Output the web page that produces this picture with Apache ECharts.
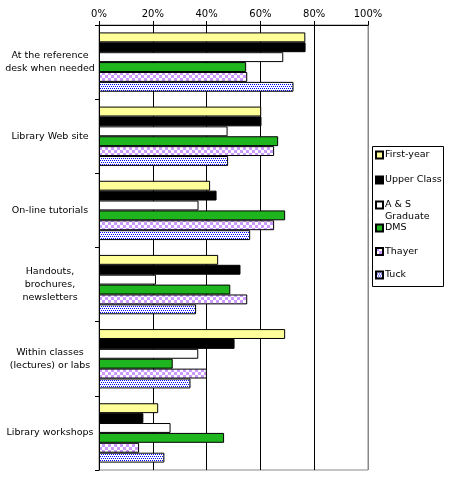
<!DOCTYPE html>
<html>
<head>
<meta charset="utf-8">
<style>
html,body{margin:0;padding:0;background:#fff;}
#c{width:453px;height:482px;}
</style>
<script src="https://cdn.jsdelivr.net/npm/echarts@6/dist/echarts.min.js"></script>
</head>
<body>
<div id="c"></div>
<script>
var categories = [
  "At the reference\ndesk when needed",
  "Library Web site",
  "On-line tutorials",
  "Handouts,\nbrochures,\nnewsletters",
  "Within classes\n(lectures) or labs",
  "Library workshops"
];
var seriesNames = ["First-year", "Upper Class", "A & S\nGraduate", "DMS", "Thayer", "Tuck"];
var firstYear  = [76.7, 60.3, 41.3, 44.3, 69.2, 22.0];
var upperClass = [76.8, 60.4, 43.7, 52.6, 50.4, 16.5];
var asGraduate = [68.5, 47.8, 37.0, 21.2, 36.9, 26.6];
var dms        = [54.7, 66.6, 69.2, 48.8, 27.4, 46.5];
var thayer     = [55.1, 65.1, 65.1, 55.1, 40.1, 14.9];
var tuck       = [72.3, 48.0, 56.2, 36.1, 34.0, 24.3];
var xTicks = [0, 20, 40, 60, 80, 100];

function checker() {
  var c = document.createElement('canvas'); c.width = 6; c.height = 6;
  var g = c.getContext('2d');
  g.fillStyle = '#fff'; g.fillRect(0, 0, 6, 6);
  g.fillStyle = '#cc99ff'; g.fillRect(0, 0, 3, 3); g.fillRect(3, 3, 3, 3);
  return c;
}
function dots() {
  var c = document.createElement('canvas'); c.width = 4; c.height = 4;
  var g = c.getContext('2d');
  g.fillStyle = '#fff'; g.fillRect(0, 0, 4, 4);
  g.fillStyle = '#0000ff';
  g.fillRect(0, 0, 1, 1); g.fillRect(2, 0, 1, 1);
  g.fillRect(1, 2, 1, 1); g.fillRect(3, 2, 1, 1);
  return c;
}

var fills = ['#ffff99', '#000000', '#ffffff', '#1fb51f',
  {image: checker(), repeat: 'repeat'}, {image: dots(), repeat: 'repeat'}];
var dataArr = [firstYear, upperClass, asGraduate, dms, thayer, tuck];

var font = 'DejaVu Sans';
var series = seriesNames.map(function (n, i) {
  return {
    name: n, type: 'bar', data: dataArr[i],
    barGap: '0%', barCategoryGap: '20%',
    itemStyle: {color: fills[i], borderColor: '#000', borderWidth: 1},
    emphasis: {disabled: true},
    animation: false
  };
});

function legendPart(names, top, gap) {
  return {
    orient: 'vertical', left: 375, top: top,
    data: names,
    itemWidth: 7, itemHeight: 7, itemGap: gap,
    icon: 'rect',
    formatter: function (n) { return n.indexOf('\n') >= 0 ? '\n' + n : n; },
    textStyle: {fontFamily: font, fontSize: 9.5, color: '#000', lineHeight: 12, padding: [0, 0, 0, -3]},
    padding: 0,
    selectedMode: false
  };
}

var chart = echarts.init(document.getElementById('c'), null, {renderer: 'canvas'});
chart.setOption({
  animation: false,
  backgroundColor: '#fff',
  grid: {left: 99, top: 25, right: 85, bottom: 12, show: true, borderColor: '#888', borderWidth: 1, backgroundColor: 'transparent'},
  graphic: [{
    type: 'rect', left: 372, top: 146, shape: {width: 71, height: 140},
    style: {fill: 'transparent', stroke: '#000', lineWidth: 1}, silent: true
  }],
  legend: [
    legendPart(seriesNames.slice(0, 2), 149, 13),
    legendPart(seriesNames.slice(2, 3), 187, 0),
    legendPart(seriesNames.slice(3, 6), 222, 11.5)
  ],
  xAxis: {
    type: 'value', position: 'top', min: 0, max: 100, interval: 20,
    axisLine: {show: true, lineStyle: {color: '#000'}},
    axisTick: {show: true, length: 4, lineStyle: {color: '#000'}},
    axisLabel: {formatter: function (v) { return xTicks.indexOf(v) >= 0 ? v + '%' : ''; }, fontFamily: font, fontSize: 10, color: '#000', margin: 6},
    splitLine: {show: true, lineStyle: {color: ['#000', '#000', '#000', '#000', '#000', '#888'], width: 1}}
  },
  yAxis: {
    type: 'category', data: categories, inverse: true,
    axisLine: {show: true, lineStyle: {color: '#000'}},
    axisTick: {show: true, length: 4, lineStyle: {color: '#000'}},
    axisLabel: {fontFamily: font, fontSize: 9.5, color: '#000', align: 'center', margin: 49, lineHeight: 13}
  },
  series: series
});
</script>
</body>
</html>
